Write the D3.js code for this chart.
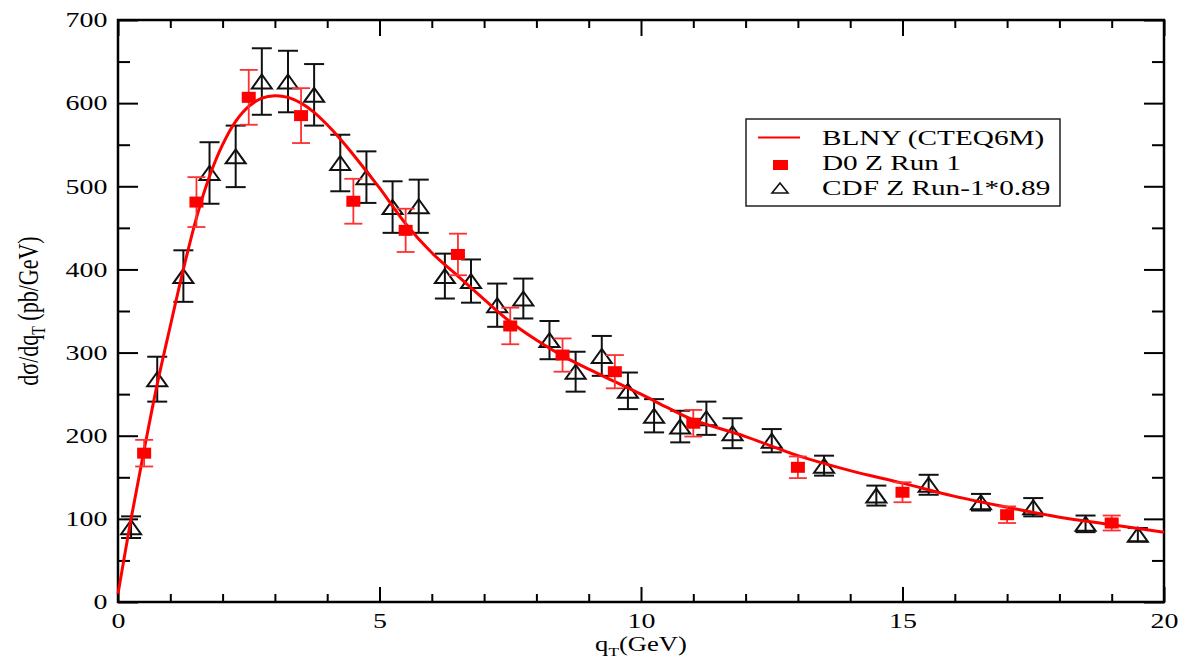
<!DOCTYPE html>
<html>
<head>
<meta charset="utf-8">
<script src="https://cdn.jsdelivr.net/npm/d3@7"></script>
<style>
  body { margin: 0; background: #fff; }
  svg { display: block; font-family: "Liberation Serif", "Times New Roman", serif; }
</style>
</head>
<body>
<div id="chart"></div>
<script>
// BLNY (CTEQ6M) curve
var curveQ = [0, 0.25, 0.5, 0.75, 1, 1.25, 1.5, 1.75, 2, 2.25, 2.5, 2.75, 3, 3.25, 3.5, 3.75, 4, 4.25, 4.5, 4.75,
  5, 5.5, 6, 6.5, 7, 7.5, 8, 8.5, 9, 9.5, 10, 10.5, 11, 12, 13, 14, 15, 16, 17, 18, 19, 20];
var curveY = [10, 100, 183, 262, 332, 400, 462, 512, 550, 578, 596, 606, 609, 607, 600, 589, 574, 557, 538, 518,
  498, 455, 420, 392, 364, 337, 315, 296, 280, 265, 250, 234, 219, 199, 176, 158, 143, 127, 114, 102, 93, 84];

// D0 Z Run 1
var d0Q = [0.5, 1.5, 2.5, 3.5, 4.5, 5.5, 6.5, 7.5, 8.5, 9.5, 11, 13, 15, 17, 19];
var d0Y = [179, 481, 607, 585, 482, 447, 418, 332, 297, 277, 215, 162, 132, 105, 95];
var d0Err = [16, 30, 33, 33, 27, 26, 25, 22, 20, 20, 16, 13, 12, 10, 9];

// CDF Z Run-1 * 0.89
var cdfQ = [0.25, 0.75, 1.25, 1.75, 2.25, 2.75, 3.25, 3.75, 4.25, 4.75, 5.25, 5.75, 6.25, 6.75, 7.25, 7.75,
  8.25, 8.75, 9.25, 9.75, 10.25, 10.75, 11.25, 11.75, 12.5, 13.5, 14.5, 15.5, 16.5, 17.5, 18.5, 19.5];
var cdfY = [90, 268, 392, 516, 536, 626, 626, 610, 528, 511, 475, 476, 392, 386, 357, 365,
  315, 277, 296, 254, 224, 211, 221, 203, 194, 164, 128, 141, 120, 114, 94, 81];
var cdfErr = [13, 27, 31, 37, 37, 40, 37, 37, 34, 31, 31, 32, 27, 26, 26, 24,
  23, 24, 24, 22, 20, 19, 20, 18, 14, 12, 12, 12, 10, 11, 10, 8];

var xTicks = [0, 5, 10, 15, 20];
var yTicks = [0, 100, 200, 300, 400, 500, 600, 700];
var legendLabels = ["BLNY (CTEQ6M)", "D0 Z Run 1", "CDF Z Run-1*0.89"];

var svgWidth = 1195, svgHeight = 659;
var margin = {top: 20, right: 31, bottom: 57, left: 118};
var stretch = 1.33; // the picture is wider than tall, text is stretched too

var svg = d3.select("#chart").append("svg")
  .attr("width", svgWidth)
  .attr("height", svgHeight);

svg.append("rect").attr("width", svgWidth).attr("height", svgHeight).attr("fill", "#fff");

var x = d3.scaleLinear().domain([0, 20]).range([margin.left, svgWidth - margin.right]);
var y = d3.scaleLinear().domain([0, 700]).range([svgHeight - margin.bottom, margin.top]);

var xMinor = d3.range(0, 21).filter(d => d % 5 !== 0);
var yMinor = d3.range(50, 700, 100);

function styleAxis(g) {
  g.select(".domain").remove();
  g.selectAll("line").attr("stroke", "#000").attr("stroke-width", 2);
  g.selectAll("text").attr("fill", "#000").attr("font-size", 21)
    .attr("font-family", "Liberation Serif, serif")
    .attr("transform", `scale(${stretch},1)`);
}

// bottom
svg.append("g").attr("transform", `translate(0,${y(0)})`)
  .call(d3.axisBottom(x).tickValues(xTicks).tickSize(-15).tickPadding(11)).call(styleAxis);
svg.append("g").attr("transform", `translate(0,${y(0)})`)
  .call(d3.axisBottom(x).tickValues(xMinor).tickSize(-8).tickFormat("")).call(styleAxis);
// top
svg.append("g").attr("transform", `translate(0,${y(700)})`)
  .call(d3.axisTop(x).tickValues(xTicks).tickSize(-16).tickFormat("")).call(styleAxis);
svg.append("g").attr("transform", `translate(0,${y(700)})`)
  .call(d3.axisTop(x).tickValues(xMinor).tickSize(-8).tickFormat("")).call(styleAxis);
// left
svg.append("g").attr("transform", `translate(${x(0)},0)`)
  .call(d3.axisLeft(y).tickValues(yTicks).tickSize(-20).tickPadding(8)).call(styleAxis);
svg.append("g").attr("transform", `translate(${x(0)},0)`)
  .call(d3.axisLeft(y).tickValues(yMinor).tickSize(-12).tickFormat("")).call(styleAxis);
// right
svg.append("g").attr("transform", `translate(${x(20)},0)`)
  .call(d3.axisRight(y).tickValues(yTicks).tickSize(-20).tickFormat("")).call(styleAxis);
svg.append("g").attr("transform", `translate(${x(20)},0)`)
  .call(d3.axisRight(y).tickValues(yMinor).tickSize(-12).tickFormat("")).call(styleAxis);

// frame
svg.append("rect")
  .attr("x", x(0)).attr("y", y(700))
  .attr("width", x(20) - x(0)).attr("height", y(0) - y(700))
  .attr("fill", "none").attr("stroke", "#000").attr("stroke-width", 2.5);

var cdfData = cdfQ.map((q, i) => ({q: q, v: cdfY[i], e: cdfErr[i]}));
var d0Data = d0Q.map((q, i) => ({q: q, v: d0Y[i], e: d0Err[i]}));
var curveData = curveQ.map((q, i) => ({q: q, v: curveY[i]}));

var triW = 20, triH = 14;
function triPath(w, h) {
  return `M0,${-h / 2}L${w / 2},${h / 2}L${-w / 2},${h / 2}Z`;
}

// CDF error bars + triangles
var cdfG = svg.append("g").attr("stroke", "#111").attr("stroke-width", 2).attr("fill", "none");
cdfData.forEach(function(d) {
  var cx = x(d.q), hi = y(d.v + d.e), lo = y(d.v - d.e);
  cdfG.append("line").attr("x1", cx).attr("x2", cx).attr("y1", hi).attr("y2", lo);
  cdfG.append("line").attr("x1", cx - 10).attr("x2", cx + 10).attr("y1", hi).attr("y2", hi);
  cdfG.append("line").attr("x1", cx - 10).attr("x2", cx + 10).attr("y1", lo).attr("y2", lo);
});
cdfG.selectAll("path.tri")
  .data(cdfData)
  .enter()
  .append("path")
  .attr("class", "tri")
  .attr("d", triPath(triW, triH))
  .attr("transform", d => `translate(${x(d.q)},${y(d.v)})`);

// BLNY curve
var line = d3.line()
  .x(d => x(d.q))
  .y(d => y(d.v))
  .curve(d3.curveCatmullRom.alpha(0.5));

svg.append("path")
  .datum(curveData)
  .attr("d", line)
  .attr("fill", "none")
  .attr("stroke", "#ff0000")
  .attr("stroke-width", 3);

// D0 error bars + squares
var d0G = svg.append("g").attr("stroke", "#ff3030").attr("stroke-width", 1.8);
d0Data.forEach(function(d) {
  var cx = x(d.q), hi = y(d.v + d.e), lo = y(d.v - d.e);
  d0G.append("line").attr("x1", cx).attr("x2", cx).attr("y1", hi).attr("y2", lo);
  d0G.append("line").attr("x1", cx - 9).attr("x2", cx + 9).attr("y1", hi).attr("y2", hi);
  d0G.append("line").attr("x1", cx - 9).attr("x2", cx + 9).attr("y1", lo).attr("y2", lo);
});
svg.selectAll("rect.sq")
  .data(d0Data)
  .enter()
  .append("rect")
  .attr("class", "sq")
  .attr("x", d => x(d.q) - 7)
  .attr("y", d => y(d.v) - 5.5)
  .attr("width", 14)
  .attr("height", 11)
  .attr("fill", "#ff0000");

// axis titles
var xt = svg.append("text")
  .attr("transform", `translate(641,651) scale(${stretch},1)`)
  .attr("text-anchor", "middle")
  .attr("font-size", 20)
  .attr("fill", "#000");
xt.append("tspan").text("q");
xt.append("tspan").attr("font-size", 13).attr("dy", 5).text("T");
xt.append("tspan").attr("dy", -5).text("(GeV)");

var yt = svg.append("text")
  .attr("transform", `translate(38,${(y(0) + y(700)) / 2}) rotate(-90) scale(1,${stretch})`)
  .attr("text-anchor", "middle")
  .attr("font-size", 22)
  .attr("fill", "#000");
yt.append("tspan").text("d\u03c3/dq");
yt.append("tspan").attr("font-size", 14).attr("dy", 5).text("T");
yt.append("tspan").attr("dy", -5).text(" (pb/GeV)");

// legend
var legend = svg.append("g");
legend.append("rect")
  .attr("x", 746).attr("y", 119).attr("width", 314).attr("height", 87)
  .attr("fill", "#fff").attr("stroke", "#222").attr("stroke-width", 1.5);
legend.append("line")
  .attr("x1", 758).attr("x2", 800).attr("y1", 137.5).attr("y2", 137.5)
  .attr("stroke", "#ff0000").attr("stroke-width", 2);
legend.append("rect")
  .attr("x", 773).attr("y", 160).attr("width", 15).attr("height", 10)
  .attr("fill", "#ff0000");
legend.append("path")
  .attr("d", triPath(16, 10))
  .attr("transform", "translate(780,188)")
  .attr("fill", "none").attr("stroke", "#111").attr("stroke-width", 1.6);

var rowBase = [145, 170, 195];
legend.selectAll("text")
  .data(legendLabels)
  .enter()
  .append("text")
  .attr("transform", (d, i) => `translate(822,${rowBase[i]}) scale(${stretch},1)`)
  .attr("font-size", 22)
  .attr("fill", "#000")
  .text(d => d);
</script>
</body>
</html>
